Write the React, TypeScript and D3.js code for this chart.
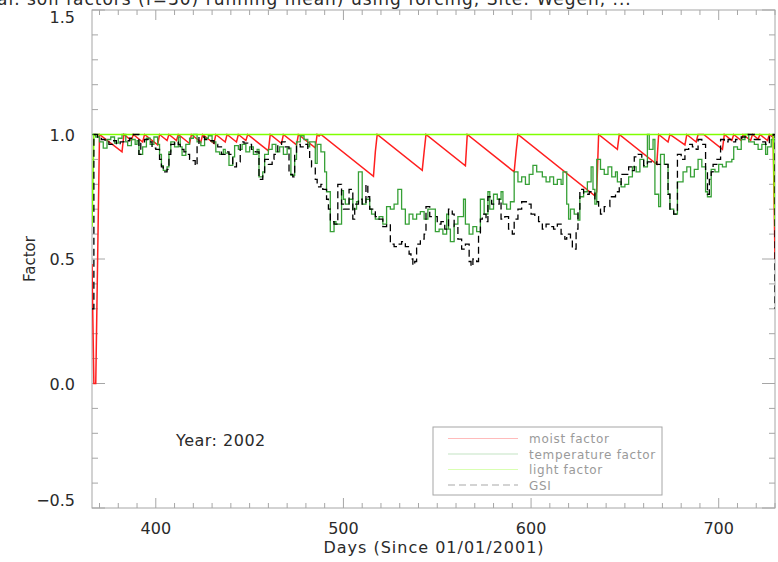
import React from "react";
import * as d3 from "d3";

type Pt = [number, number];

// Axis setup
const xRange: [number, number] = [366, 730];
const yRange: [number, number] = [-0.5, 1.5];
const xMajorTicks = [400, 500, 600, 700];
const yMajorTicks = [-0.5, 0, 0.5, 1.0, 1.5];
const yTickLabels = ["\u22120.5", "0.0", "0.5", "1.0", "1.5"];
const xTitle = "Days (Since 01/01/2001)";
const yTitle = "Factor";
const yearLabel = "Year: 2002";
const titleText =
  "al. soil factors (f=30) running mean) using forcing, Site: Wegen, ...";
const legendLabels = ["moist factor", "temperature factor", "light factor", "GSI"];

// Soil moisture factor: [day, value], linear decline between wetting events
const moistFactor: Pt[] = [
  [366, 0.48], [367, 0.0], [368, 0.0], [369, 0.5], [370, 1.0],
  [382, 0.93], [383, 1.0], [387, 0.976], [388, 1.0], [393, 0.97], [394, 1.0],
  [401, 0.958], [402, 1.0], [406, 0.976], [407, 1.0], [411, 0.976], [412, 1.0],
  [418, 0.964], [419, 1.0], [424, 0.97], [425, 1.0], [431, 0.964], [432, 1.0],
  [437, 0.97], [438, 1.0], [443, 0.97], [444, 1.0], [448, 0.976], [449, 1.0],
  [460, 0.934], [461, 1.0], [467, 0.964], [468, 1.0], [475, 0.958], [476, 1.0],
  [485, 0.946], [486, 1.0], [487, 0.994], [488, 1.0],
  [516, 0.832], [517, 0.93], [518, 1.0],
  [542, 0.856], [543, 0.93], [544, 1.0],
  [565, 0.874], [566, 1.0],
  [591, 0.85], [592, 0.93], [593, 1.0],
  [634, 0.754], [635, 0.77], [636, 1.0],
  [646, 0.94], [647, 1.0],
  [667, 0.88], [668, 1.0], [673, 0.97], [674, 1.0], [682, 0.958], [683, 1.0],
  [688, 0.97], [689, 1.0], [692, 1.0], [702, 0.94], [703, 1.0],
  [707, 0.976], [708, 1.0], [712, 0.976], [713, 1.0], [717, 0.976], [718, 1.0],
  [721, 0.982], [722, 1.0], [726, 0.976], [727, 1.0], [729, 0.988], [730, 0.5],
];

// Temperature factor: daily steps [day, value]
const temperatureFactor: Pt[] = [
  [366, 1.0], [368, 0.99], [370, 0.97], [372, 0.945], [374, 0.98], [376, 0.99],
  [378, 0.965], [380, 0.985], [382, 1.0], [384, 0.97], [385, 0.955], [387, 0.98],
  [389, 0.96], [390, 0.975], [391, 0.92], [393, 0.95], [395, 0.985], [397, 0.96],
  [399, 0.99], [401, 0.96], [402, 0.92], [403, 0.875], [404, 0.856], [406, 0.87],
  [407, 0.93], [408, 0.97], [410, 0.95], [412, 0.99], [413, 0.95], [414, 0.916],
  [416, 0.96], [418, 0.985], [420, 1.0], [422, 0.97], [424, 0.955], [426, 0.985],
  [428, 0.995], [430, 0.97], [432, 0.93], [434, 0.92], [436, 0.94], [437, 0.925],
  [439, 0.876], [441, 0.91], [442, 0.955], [444, 0.94], [446, 0.96], [448, 0.93],
  [450, 0.95], [452, 0.92], [454, 0.94], [455, 0.83], [457, 0.85], [458, 0.92],
  [460, 0.94], [462, 0.96], [464, 0.93], [466, 0.95], [468, 0.92], [470, 0.945],
  [472, 0.836], [474, 0.9], [475, 0.97], [477, 0.995], [479, 0.98], [481, 0.95],
  [482, 0.97], [485, 0.884], [486, 0.96], [488, 0.93], [490, 0.85], [491, 0.77],
  [493, 0.61], [495, 0.65], [496, 0.64], [499, 0.775], [500, 0.74], [501, 0.72],
  [503, 0.74], [505, 0.7], [507, 0.73], [508, 0.85], [510, 0.72], [512, 0.74],
  [514, 0.7], [515, 0.68], [517, 0.66], [519, 0.67], [521, 0.64], [523, 0.71],
  [525, 0.7], [527, 0.72], [529, 0.78], [531, 0.7], [533, 0.64], [535, 0.68],
  [537, 0.66], [539, 0.68], [541, 0.69], [543, 0.66], [545, 0.7], [549, 0.61],
  [551, 0.62], [553, 0.6], [555, 0.68], [556, 0.62], [557, 0.57], [559, 0.64],
  [561, 0.67], [564, 0.74], [565, 0.64], [567, 0.6], [569, 0.63], [571, 0.61],
  [573, 0.74], [575, 0.68], [577, 0.77], [578, 0.7], [580, 0.76], [582, 0.74],
  [584, 0.77], [585, 0.72], [587, 0.7], [589, 0.73], [591, 0.85], [593, 0.81],
  [595, 0.83], [597, 0.8], [599, 0.84], [601, 0.876], [603, 0.85], [606, 0.83],
  [608, 0.81], [610, 0.83], [612, 0.8], [614, 0.82], [616, 0.8], [617, 0.85],
  [619, 0.72], [620, 0.66], [621, 0.7], [623, 0.68], [625, 0.656], [626, 0.75],
  [628, 0.77], [630, 0.81], [632, 0.87], [633, 0.78], [634, 0.72], [635, 0.9],
  [637, 0.86], [639, 0.84], [641, 0.87], [643, 0.83], [645, 0.85], [646, 0.81],
  [648, 0.79], [650, 0.8], [652, 0.83], [654, 0.87], [656, 0.85], [658, 0.9],
  [660, 0.87], [662, 1.0], [663, 0.94], [665, 0.98], [666, 0.76], [668, 0.71],
  [669, 0.92], [671, 0.88], [673, 0.76], [674, 0.7], [676, 0.68], [678, 0.81],
  [681, 0.85], [683, 0.87], [685, 0.83], [687, 0.86], [689, 0.9], [691, 0.87],
  [693, 0.77], [694, 0.75], [696, 0.86], [698, 0.85], [700, 0.88], [702, 0.87],
  [704, 0.89], [707, 0.9], [708, 0.95], [710, 0.94], [712, 0.98], [714, 1.0],
  [716, 0.97], [719, 0.96], [721, 0.94], [723, 0.96], [725, 0.92], [726, 0.95],
  [728, 0.98], [730, 0.97],
];

// Light factor: [day, value]
const lightFactor: Pt[] = [
  [366, 0.63], [367, 1.0], [729, 1.0], [730, 0.63],
];

// Growing season index: daily steps [day, value]
const gsi: Pt[] = [
  [366, 0.3], [367, 1.0], [369, 0.99], [371, 0.98], [373, 0.97], [375, 0.96],
  [377, 0.975], [379, 0.96], [381, 0.97], [383, 0.975], [386, 0.985], [388, 1.0],
  [391, 0.92], [392, 0.97], [394, 0.98], [396, 0.97], [398, 0.945], [400, 0.94],
  [402, 0.9], [403, 0.87], [404, 0.85], [406, 0.86], [407, 0.92], [408, 0.96],
  [410, 0.97], [412, 0.96], [413, 0.94], [415, 0.93], [416, 0.92], [418, 0.9],
  [419, 0.895], [421, 0.875], [422, 0.96], [423, 0.99], [426, 0.98], [428, 0.975],
  [431, 0.96], [433, 0.95], [435, 0.92], [437, 0.93], [439, 0.92], [441, 0.87],
  [443, 0.89], [445, 0.97], [447, 0.965], [449, 0.96], [451, 0.94], [453, 0.93],
  [455, 0.82], [457, 0.84], [458, 0.9], [460, 0.88], [462, 0.9], [463, 0.92],
  [465, 0.96], [467, 0.97], [469, 0.95], [471, 0.84], [473, 0.83], [474, 0.92],
  [475, 0.96], [477, 0.95], [479, 0.96], [481, 0.94], [482, 0.9], [483, 0.87],
  [485, 0.82], [486, 0.79], [488, 0.8], [489, 0.78], [491, 0.74], [492, 0.7],
  [493, 0.65], [495, 0.64], [497, 0.8], [499, 0.72], [500, 0.7], [503, 0.78],
  [505, 0.66], [506, 0.72], [508, 0.74], [510, 0.72], [512, 0.8], [513, 0.75],
  [514, 0.7], [517, 0.67], [519, 0.66], [521, 0.63], [523, 0.64], [525, 0.56],
  [527, 0.55], [529, 0.56], [531, 0.57], [533, 0.55], [535, 0.52], [536, 0.5],
  [537, 0.475], [538, 0.49], [539, 0.56], [541, 0.58], [543, 0.6], [544, 0.71],
  [546, 0.67], [550, 0.64], [552, 0.65], [554, 0.62], [556, 0.7], [558, 0.68],
  [559, 0.63], [561, 0.58], [563, 0.54], [565, 0.56], [567, 0.49], [568, 0.47],
  [569, 0.5], [571, 0.49], [572, 0.6], [573, 0.66], [574, 0.68], [576, 0.65],
  [577, 0.75], [579, 0.72], [583, 0.74], [584, 0.66], [586, 0.67], [588, 0.62],
  [590, 0.6], [591, 0.66], [593, 0.7], [595, 0.73], [598, 0.72], [600, 0.68],
  [602, 0.67], [604, 0.65], [606, 0.62], [608, 0.64], [610, 0.63], [612, 0.62],
  [614, 0.64], [616, 0.6], [618, 0.58], [619, 0.6], [621, 0.58], [622, 0.54],
  [624, 0.62], [625, 0.7], [626, 0.78], [628, 0.76], [631, 0.77], [634, 0.73],
  [636, 0.7], [637, 0.68], [639, 0.71], [642, 0.75], [645, 0.77], [647, 0.8],
  [648, 0.84], [652, 0.87], [654, 0.855], [655, 0.91], [657, 0.92], [659, 0.9],
  [660, 0.875], [662, 0.89], [667, 0.88], [673, 0.76], [674, 0.7], [676, 0.68],
  [678, 0.92], [680, 0.9], [682, 0.94], [684, 0.96], [686, 0.95], [688, 0.94],
  [689, 0.98], [691, 0.96], [693, 0.86], [694, 0.76], [695, 0.82], [696, 0.85],
  [697, 0.88], [699, 0.9], [701, 0.98], [703, 0.97], [705, 0.98], [707, 0.97],
  [709, 0.98], [712, 0.99], [715, 1.0], [719, 0.98], [722, 0.97], [725, 0.96],
  [727, 0.99], [729, 1.0], [730, 0.3],
];

const W = 778;
const H = 562;
const plot = { left: 92, right: 775, top: 10, bottom: 508 };
const axisColor = "#a6a6a6";
const textColor = "#2a2a2a";
const font = "'DejaVu Sans', sans-serif";

export default function App() {
  const x = d3.scaleLinear().domain(xRange).range([plot.left, plot.right]);
  const y = d3.scaleLinear().domain(yRange).range([plot.bottom, plot.top]);

  const linearPath = d3
    .line<Pt>()
    .x((d) => x(d[0]))
    .y((d) => y(d[1]));
  const stepPath = d3
    .line<Pt>()
    .x((d) => x(d[0]))
    .y((d) => y(d[1]))
    .curve(d3.curveStepAfter);

  const xMinor = d3.range(370, 731, 10).filter((d) => !xMajorTicks.includes(d));
  const yMinor = d3
    .range(-5, 16)
    .map((i) => i / 10)
    .filter((v) => !yMajorTicks.some((m) => Math.abs(m - v) < 1e-9));

  const xMajLen = 10;
  const xMinLen = 5;
  const yMajLen = 13;
  const yMinLen = 6;

  const series = [
    { data: moistFactor, path: linearPath, color: "#ff1f1f", width: 1.5, dash: "none" },
    { data: temperatureFactor, path: stepPath, color: "#36a036", width: 1.3, dash: "none" },
    { data: lightFactor, path: linearPath, color: "#80ff00", width: 1.5, dash: "none" },
    { data: gsi, path: stepPath, color: "#000000", width: 1.3, dash: "7 4" },
  ];

  const legend = { x: 433, y: 427, w: 229, h: 68, lineX0: 448, lineX1: 518, textX: 529, rowY0: 438.5, rowDy: 15.5 };

  return (
    <svg
      width={W}
      height={H}
      viewBox={`0 0 ${W} ${H}`}
      style={{ position: "absolute", left: 0, top: 0, background: "#fff" }}
    >
      <rect x={0} y={0} width={W} height={H} fill="#fff" />

      {/* clipped title line at the top */}
      <text x={-3} y={4.5} fontFamily={font} fontSize={17} fill={textColor} letterSpacing={1}>
        {titleText}
      </text>

      <defs>
        <clipPath id="plotClip">
          <rect x={plot.left} y={plot.top} width={plot.right - plot.left} height={plot.bottom - plot.top} />
        </clipPath>
      </defs>

      {/* frame */}
      <rect
        x={plot.left}
        y={plot.top}
        width={plot.right - plot.left}
        height={plot.bottom - plot.top}
        fill="none"
        stroke={axisColor}
        strokeWidth={1}
      />

      {/* x ticks, bottom and top */}
      <g stroke={axisColor} strokeWidth={1}>
        {xMajorTicks.map((t) => (
          <g key={`xM${t}`}>
            <line x1={x(t)} x2={x(t)} y1={plot.bottom} y2={plot.bottom - xMajLen} />
            <line x1={x(t)} x2={x(t)} y1={plot.top} y2={plot.top + xMajLen} />
          </g>
        ))}
        {xMinor.map((t) => (
          <g key={`xm${t}`}>
            <line x1={x(t)} x2={x(t)} y1={plot.bottom} y2={plot.bottom - xMinLen} />
            <line x1={x(t)} x2={x(t)} y1={plot.top} y2={plot.top + xMinLen} />
          </g>
        ))}
        {yMajorTicks.map((t) => (
          <g key={`yM${t}`}>
            <line x1={plot.left} x2={plot.left + yMajLen} y1={y(t)} y2={y(t)} />
            <line x1={plot.right} x2={plot.right - yMajLen} y1={y(t)} y2={y(t)} />
          </g>
        ))}
        {yMinor.map((t) => (
          <g key={`ym${t}`}>
            <line x1={plot.left} x2={plot.left + yMinLen} y1={y(t)} y2={y(t)} />
            <line x1={plot.right} x2={plot.right - yMinLen} y1={y(t)} y2={y(t)} />
          </g>
        ))}
      </g>

      {/* tick labels */}
      <g fontFamily={font} fontSize={16} fill={textColor}>
        {xMajorTicks.map((t) => (
          <text key={`xl${t}`} x={x(t)} y={534} textAnchor="middle">
            {t}
          </text>
        ))}
        {yMajorTicks.map((t, i) => {
          const yy = Math.min(Math.max(y(t), plot.top + 7), plot.bottom - 8);
          return (
            <text key={`yl${t}`} x={75} y={yy + 6} textAnchor="end">
              {yTickLabels[i]}
            </text>
          );
        })}
      </g>

      {/* axis titles */}
      <text
        x={(plot.left + plot.right) / 2 + 0.5}
        y={553}
        textAnchor="middle"
        fontFamily={font}
        fontSize={16}
        letterSpacing={1}
        fill={textColor}
      >
        {xTitle}
      </text>
      <text
        transform={`translate(35, ${(plot.top + plot.bottom) / 2}) rotate(-90)`}
        textAnchor="middle"
        fontFamily={font}
        fontSize={15}
        fill={textColor}
      >
        {yTitle}
      </text>

      {/* data */}
      <g clipPath="url(#plotClip)" fill="none">
        {series.map((s, i) => (
          <path
            key={i}
            d={s.path(s.data) || ""}
            stroke={s.color}
            strokeWidth={s.width}
            strokeDasharray={s.dash === "none" ? undefined : s.dash}
            strokeLinejoin="miter"
          />
        ))}
      </g>

      {/* year annotation */}
      <text x={176} y={446} fontFamily={font} fontSize={16} letterSpacing={0.5} fill={textColor}>
        {yearLabel}
      </text>

      {/* legend */}
      <rect x={legend.x} y={legend.y} width={legend.w} height={legend.h} fill="#fff" stroke={axisColor} strokeWidth={1} />
      {series.map((s, i) => {
        const ry = legend.rowY0 + i * legend.rowDy;
        return (
          <g key={`lg${i}`}>
            <line
              x1={legend.lineX0}
              x2={legend.lineX1}
              y1={ry}
              y2={ry}
              stroke={s.color}
              strokeOpacity={s.dash === "none" ? 0.3 : 0.35}
              strokeWidth={1.2}
              strokeDasharray={s.dash === "none" ? undefined : s.dash}
            />
            <text
              x={legend.textX}
              y={ry + 4.5}
              fontFamily={font}
              fontSize={12}
              letterSpacing={0.7}
              fill="#9a9a9a"
            >
              {legendLabels[i]}
            </text>
          </g>
        );
      })}
    </svg>
  );
}
